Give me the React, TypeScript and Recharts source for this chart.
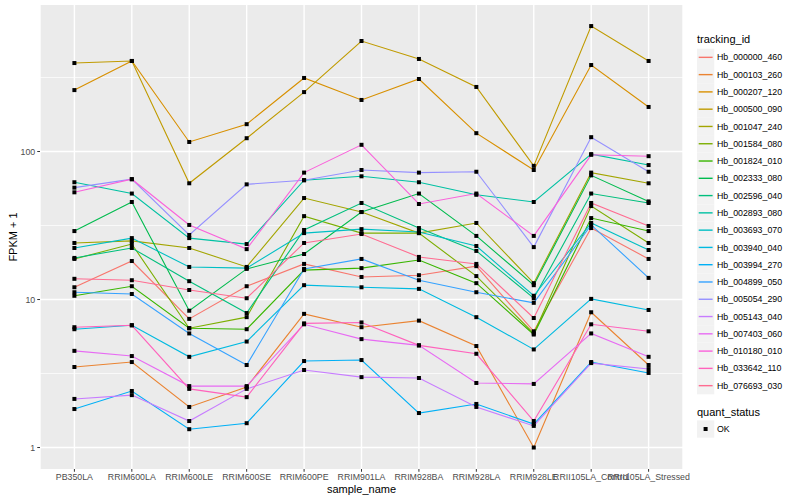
import React from 'react'
import { LineChart, Line, XAxis, YAxis, CartesianGrid } from 'recharts'

// sample_name categories, in axis order
const samples = [
  'PB350LA',
  'RRIM600LA',
  'RRIM600LE',
  'RRIM600SE',
  'RRIM600PE',
  'RRIM901LA',
  'RRIM928BA',
  'RRIM928LA',
  'RRIM928LE',
  'RRII105LA_Control',
  'RRII105LA_Stressed',
]

const trackingIds = [
  'Hb_000000_460',
  'Hb_000103_260',
  'Hb_000207_120',
  'Hb_000500_090',
  'Hb_001047_240',
  'Hb_001584_080',
  'Hb_001824_010',
  'Hb_002333_080',
  'Hb_002596_040',
  'Hb_002893_080',
  'Hb_003693_070',
  'Hb_003940_040',
  'Hb_003994_270',
  'Hb_004899_050',
  'Hb_005054_290',
  'Hb_005143_040',
  'Hb_007403_060',
  'Hb_010180_010',
  'Hb_033642_110',
  'Hb_076693_030',
]

// ggplot default hue palette, 20 levels
const colors = [
  '#F8766D', '#EA8331', '#D89000', '#C09B00', '#A3A500',
  '#7CAE00', '#39B600', '#00BB4E', '#00BF7D', '#00C1A3',
  '#00BFC4', '#00BAE0', '#00B0F6', '#35A2FF', '#9590FF',
  '#C77CFF', '#E76BF3', '#FA62DB', '#FF62BC', '#FF6C91',
]

// FPKM + 1, one value per sample
const hb000000_460 = [12.1, 18.2, 7.4, 12.3, 17.4, 14.2, 14.6, 16.8, 6.1, 30.4, 18.8]
const hb000103_260 = [3.5, 3.78, 1.88, 2.56, 8.0, 6.5, 7.2, 4.85, 1.0, 8.2, 3.61]
const hb000207_120 = [260, 409, 116, 153, 314, 223, 309, 133, 75, 384, 200]
const hb000500_090 = [396, 409, 61, 123, 252, 558, 422, 273, 80, 704, 409]
const hb001047_240 = [24.1, 24.9, 22.3, 16.6, 48.5, 39, 28.1, 32.9, 12.9, 72, 61]
const hb001584_080 = [18.8, 23.7, 6.4, 7.6, 36.6, 28.1, 28.1, 14.4, 5.9, 42.8, 24.1]
const hb001824_010 = [10.6, 12.3, 6.4, 6.3, 15.8, 16.3, 18.5, 12.9, 5.8, 35.5, 29]
const hb002333_080 = [29, 45.6, 8.4, 16.1, 20.3, 39, 52, 26.9, 12.5, 69, 46]
const hb002596_040 = [19.1, 22.3, 13.3, 8.1, 29.5, 44.9, 30.4, 21.3, 10.2, 52, 44.9]
const hb002893_080 = [62, 52, 26, 23.7, 64, 68, 62, 51, 45.6, 96, 81]
const hb003693_070 = [22.3, 26, 16.6, 16.3, 28.1, 29.9, 28.6, 23, 10.6, 32.9, 21.6]
const hb003940_040 = [6.3, 6.7, 4.1, 5.2, 12.5, 12.1, 11.8, 7.6, 4.6, 10.1, 8.5]
const hb003994_270 = [1.82, 2.41, 1.33, 1.46, 3.84, 3.9, 1.71, 1.97, 1.44, 3.78, 3.19]
const hb004899_050 = [11.2, 10.9, 5.9, 3.61, 16.1, 18.8, 13.5, 11.2, 9.5, 31.9, 14]
const hb005054_290 = [57, 65, 27.3, 60, 64, 75, 72, 73, 22.6, 125, 73]
const hb005143_040 = [2.13, 2.26, 1.51, 2.49, 3.34, 2.99, 2.95, 1.88, 1.4, 3.72, 3.39]
const hb007403_060 = [4.5, 4.15, 2.6, 2.6, 6.8, 5.4, 4.9, 2.73, 2.69, 5.9, 4.1]
const hb010180_010 = [53, 65, 31.9, 21.9, 72, 111, 44.2, 52, 26.9, 95, 93]
const hb033642_110 = [6.5, 6.7, 2.49, 2.19, 6.9, 7.0, 4.9, 4.3, 1.51, 6.8, 6.1]
const hb076693_030 = [13.8, 13.5, 11.6, 10.2, 24.1, 27.7, 19.4, 17.4, 7.5, 44.9, 31.4]

const seriesValues = [
  hb000000_460, hb000103_260, hb000207_120, hb000500_090, hb001047_240,
  hb001584_080, hb001824_010, hb002333_080, hb002596_040, hb002893_080,
  hb003693_070, hb003940_040, hb003994_270, hb004899_050, hb005054_290,
  hb005143_040, hb007403_060, hb010180_010, hb033642_110, hb076693_030,
]

const majorTicks = [1, 10, 100]
const minorTicks = [3.1623, 31.623, 316.23]

const data = samples.map((s, i) => {
  const row: Record<string, any> = { sample: s }
  trackingIds.forEach((id, j) => {
    row[id] = seriesValues[j][i]
  })
  return row
})

const FONT = '"Liberation Sans", Arial, Helvetica, sans-serif'

function SquareDot(props: any) {
  const { cx, cy } = props
  if (cx == null || cy == null) return <g />
  return <rect x={cx - 2} y={cy - 2} width={4} height={4} fill="#000" />
}

function LegendPanel() {
  const keyH = 17.28
  const top0 = 48.7
  return (
    <svg width={115} height={500} style={{ position: 'absolute', left: 685, top: 0 }}>
      <text x={12} y={43} fontSize={11} fill="#000" fontFamily={FONT}>
        tracking_id
      </text>
      {trackingIds.map((id, i) => {
        const y = top0 + i * keyH
        return (
          <g key={id}>
            <rect x={12} y={y} width={keyH} height={keyH} fill="#F2F2F2" />
            <line x1={13.7} x2={27.6} y1={y + keyH / 2} y2={y + keyH / 2} stroke={colors[i]} strokeWidth={1.4} />
            <text x={32} y={y + keyH / 2 + 3.1} fontSize={8.8} fill="#000" fontFamily={FONT}>
              {id}
            </text>
          </g>
        )
      })}
      <text x={12} y={416} fontSize={11} fill="#000" fontFamily={FONT}>
        quant_status
      </text>
      <rect x={12} y={420.4} width={keyH} height={keyH} fill="#F2F2F2" />
      <rect x={18.6} y={427} width={4} height={4} fill="#000" />
      <text x={32} y={432.2} fontSize={8.8} fill="#000" fontFamily={FONT}>
        OK
      </text>
    </svg>
  )
}

export default function App() {
  return (
    <div style={{ position: 'absolute', left: 0, top: 0, width: 800, height: 500, background: '#fff' }}>
      <LineChart width={800} height={500} data={data} margin={{ top: 5, right: 117, bottom: 0, left: 0 }}>
        <CartesianGrid
          fill="#EBEBEB"
          stroke="#fff"
          strokeWidth={0.7}
          vertical={false}
          horizontalValues={minorTicks}
        />
        <CartesianGrid stroke="#fff" strokeWidth={1.4} horizontalValues={majorTicks} />
        <XAxis
          dataKey="sample"
          interval={0}
          padding={{ left: 34.4, right: 34.4 }}
          height={31}
          tickSize={2.75}
          tickMargin={2}
          tick={{ fontSize: 8.8, fill: '#4D4D4D', fontFamily: FONT }}
          tickLine={{ stroke: '#333', strokeWidth: 1 }}
          axisLine={false}
          label={() => (
            <text x={361.5} y={493} textAnchor="middle" fontSize={11} fill="#000" fontFamily={FONT}>
              sample_name
            </text>
          )}
        />
        <YAxis
          type="number"
          scale="log"
          domain={[0.716, 977]}
          allowDataOverflow
          ticks={majorTicks}
          width={40}
          tickSize={2.75}
          tickMargin={2}
          tick={{ fontSize: 8.8, fill: '#4D4D4D', fontFamily: FONT }}
          tickLine={{ stroke: '#333', strokeWidth: 1 }}
          axisLine={false}
          label={() => (
            <text
              x={17}
              y={237}
              transform="rotate(-90 17 237)"
              textAnchor="middle"
              fontSize={11}
              fill="#000"
              fontFamily={FONT}
            >
              FPKM + 1
            </text>
          )}
        />
        {trackingIds.map((id, i) => (
          <Line
            key={id}
            dataKey={id}
            stroke={colors[i]}
            strokeWidth={1.1}
            dot={false}
            activeDot={false}
            isAnimationActive={false}
          />
        ))}
        {trackingIds.map(id => (
          <Line
            key={id + '_pts'}
            dataKey={id}
            stroke="none"
            dot={SquareDot}
            activeDot={false}
            legendType="none"
            isAnimationActive={false}
          />
        ))}
      </LineChart>
      <LegendPanel />
    </div>
  )
}
